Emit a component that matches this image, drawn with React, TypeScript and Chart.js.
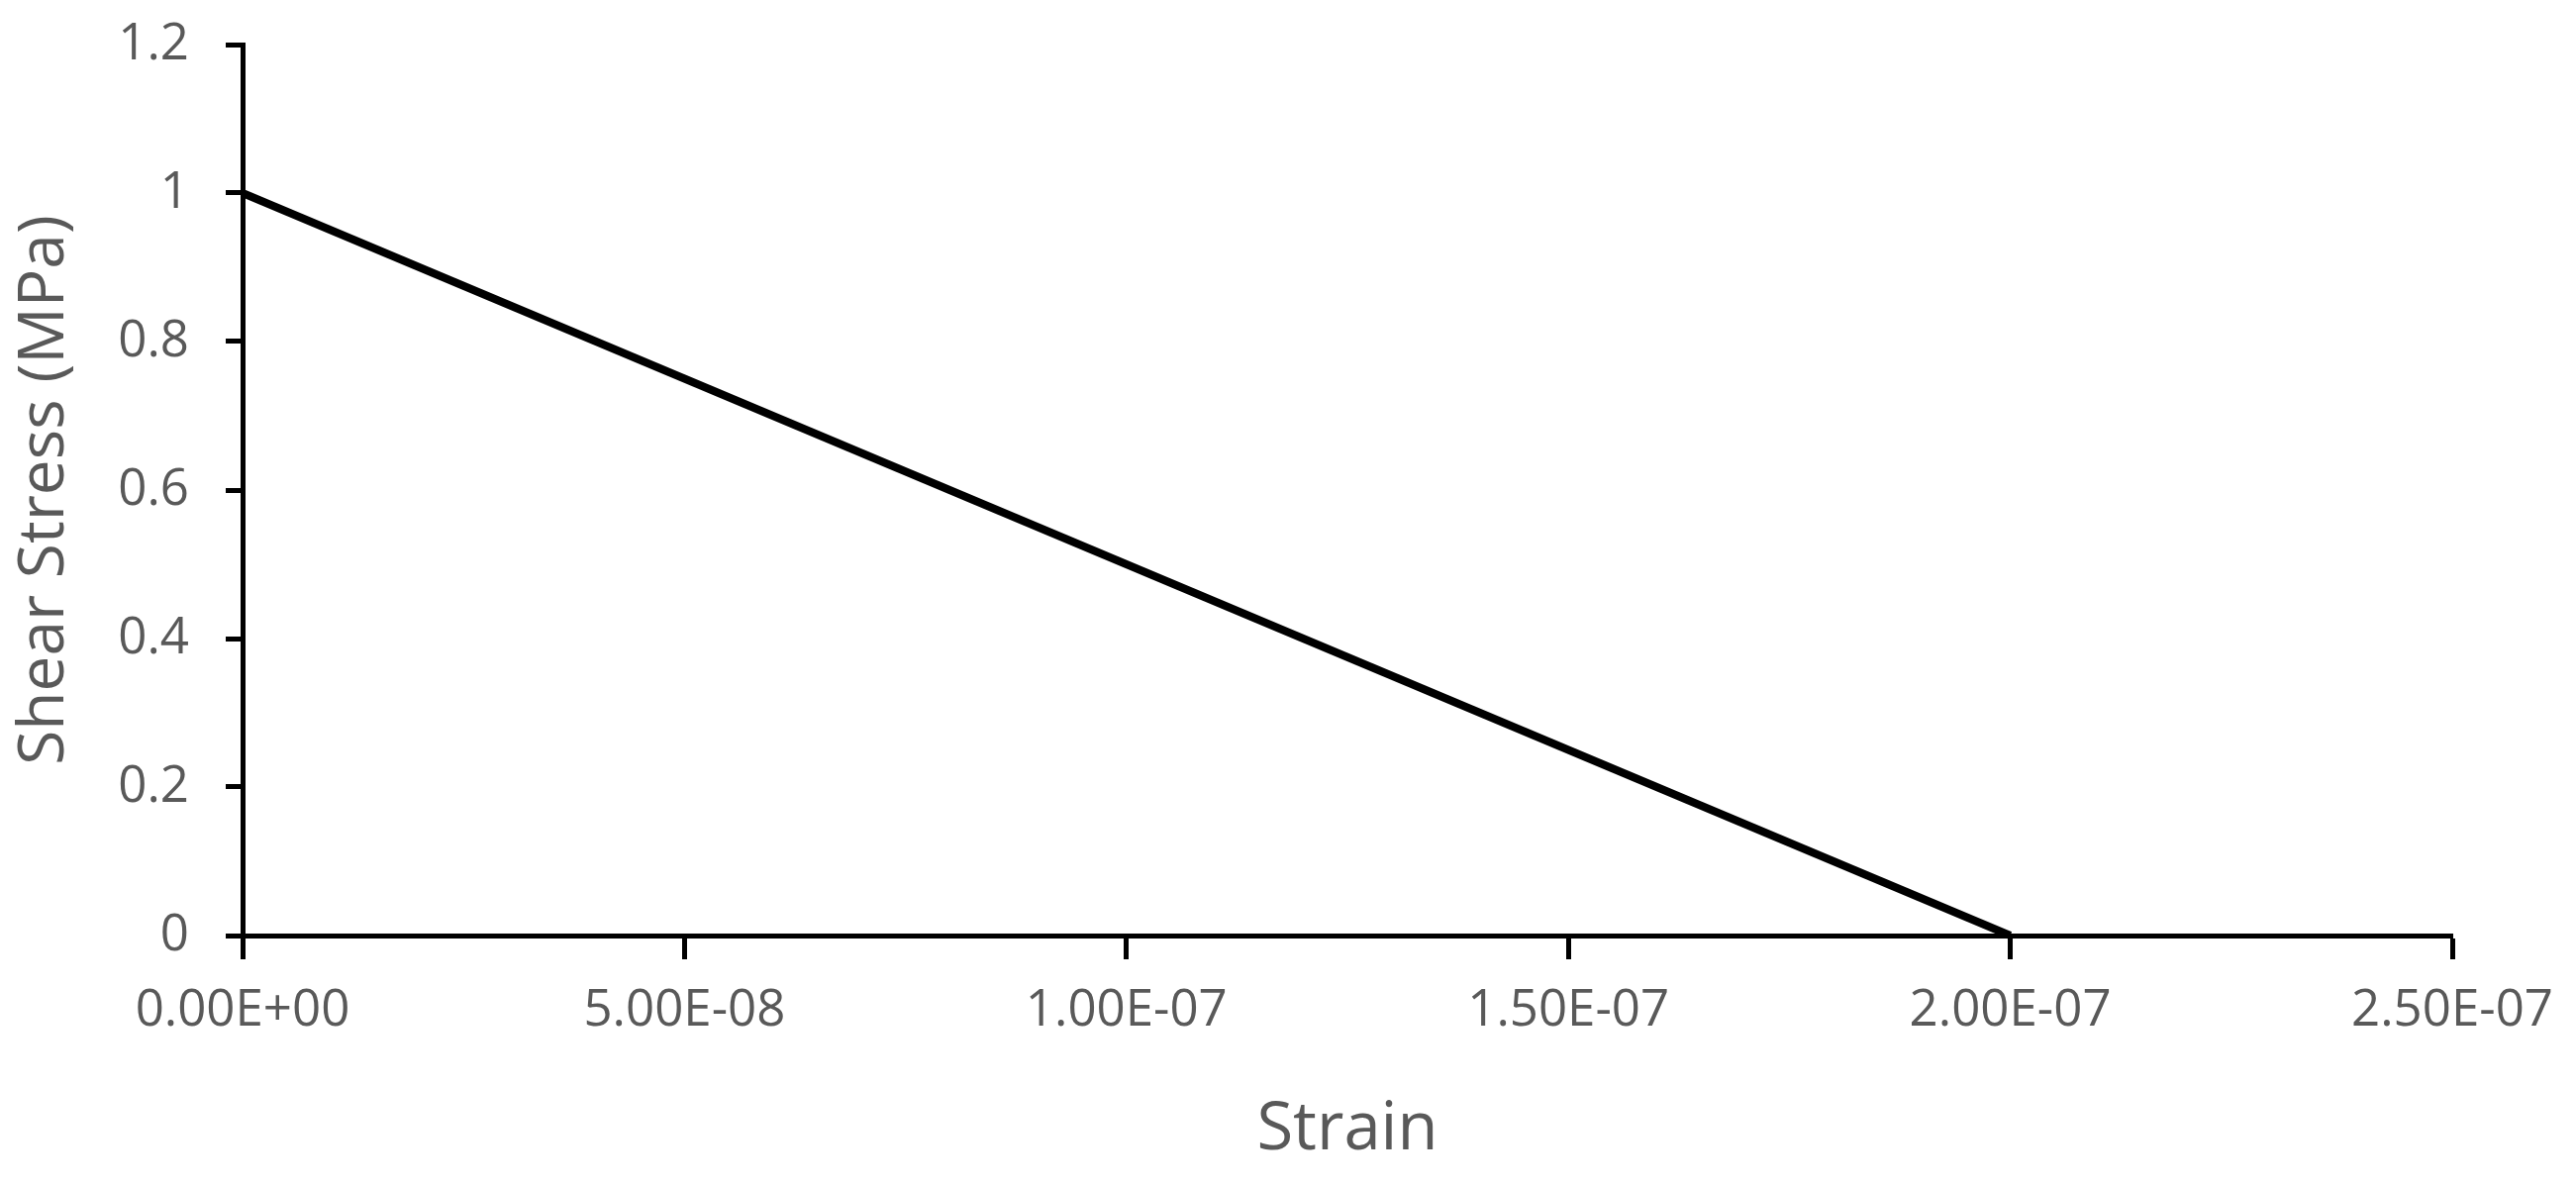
import React, { useEffect, useRef } from "react";
import { Chart, registerables } from "chart.js";

Chart.register(...registerables);

const strain = [0, 2.0e-7];
const shearStress = [1, 0];
const xTickValues = [0, 5e-8, 1e-7, 1.5e-7, 2e-7, 2.5e-7];
const yTickValues = [0, 0.2, 0.4, 0.6, 0.8, 1.0, 1.2];
const xTitle = "Strain";
const yTitle = "Shear Stress (MPa)";

const TEXT = "#595959";
const FONT = "'Open Sans', 'Noto Sans', sans-serif";

function fmtExp(v: number): string {
  if (v === 0) return "0.00E+00";
  const s = v.toExponential(2).toUpperCase();
  const [m, e] = s.split("E");
  const sign = e.startsWith("-") ? "-" : "+";
  const digits = e.replace(/^[+-]/, "").padStart(2, "0");
  return `${m}E${sign}${digits}`;
}

export default function App() {
  const ref = useRef<HTMLCanvasElement | null>(null);
  useEffect(() => {
    if (!ref.current) return;
    const chart = new Chart(ref.current, {
      type: "scatter",
      data: {
        datasets: [
          {
            data: strain.map((x, i) => ({ x, y: shearStress[i] })),
            showLine: true,
            borderColor: "#000000",
            backgroundColor: "#000000",
            borderWidth: 8,
            pointRadius: 0,
            clip: false as any,
          },
        ],
      },
      options: {
        responsive: false,
        animation: false,
        events: [],
        layout: { padding: { top: 45, right: 125, left: 0, bottom: 0 } },
        plugins: { legend: { display: false }, tooltip: { enabled: false } },
        scales: {
          x: {
            type: "linear",
            min: 0,
            max: 2.5e-7,
            afterBuildTicks: (s: any) => {
              s.ticks = xTickValues.map((v) => ({ value: v }));
            },
            afterFit: (s: any) => {
              s.height = 253;
              s.paddingLeft = 0;
              s.paddingRight = 0;
            },
            border: { display: true, color: "#000000", width: 5 },
            grid: {
              drawOnChartArea: false,
              drawTicks: true,
              tickLength: 24,
              tickWidth: 5,
              tickColor: "#000000",
            },
            ticks: {
              color: TEXT,
              font: { family: FONT, size: 51 },
              padding: 22,
              maxRotation: 0,
              autoSkip: false,
              callback: (v: any) => fmtExp(Number(v)),
            },
            title: {
              display: true,
              text: xTitle,
              color: TEXT,
              font: { family: FONT, size: 67 },
              padding: { top: 0, bottom: 16 },
            },
          },
          y: {
            type: "linear",
            min: 0,
            max: 1.2,
            afterBuildTicks: (s: any) => {
              s.ticks = yTickValues.map((v) => ({ value: v }));
            },
            afterFit: (s: any) => {
              s.width = 245;
              s.paddingTop = 0;
              s.paddingBottom = 0;
            },
            border: { display: true, color: "#000000", width: 5 },
            grid: {
              drawOnChartArea: false,
              drawTicks: true,
              tickLength: 17,
              tickWidth: 5,
              tickColor: "#000000",
            },
            ticks: {
              color: TEXT,
              font: { family: FONT, size: 51 },
              padding: 37,
              autoSkip: false,
              callback: (v: any) => String(Number(Number(v).toFixed(1))),
            },
            title: {
              display: true,
              text: yTitle,
              color: TEXT,
              font: { family: FONT, size: 64 },
              padding: { top: 7, bottom: 0 },
            },
          },
        },
      },
    });
    return () => chart.destroy();
  }, []);
  return (
    <div style={{ position: "absolute", left: 0, top: 0, width: 2602, height: 1198, background: "#fff" }}>
      <canvas ref={ref} width={2602} height={1198} style={{ display: "block" }} />
    </div>
  );
}
